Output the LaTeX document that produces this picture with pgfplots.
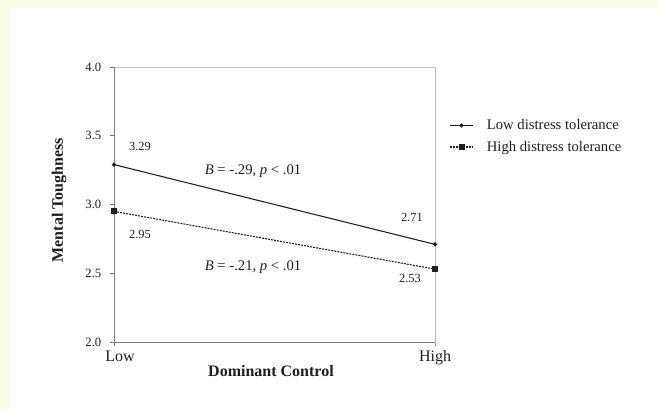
\documentclass[border=0pt]{standalone}
\usepackage{fontspec}
\setmainfont{Liberation Serif}
\usepackage{pgfplots}
\pgfplotsset{compat=1.18}
\definecolor{cream}{RGB}{250,252,232}
\definecolor{axisgray}{RGB}{125,125,125}
\definecolor{boxgray}{RGB}{190,190,190}
\definecolor{ink}{RGB}{30,30,30}
\begin{document}
\begin{tikzpicture}
\fill[cream] (0pt,0pt) rectangle (494.25pt,306.75pt);
\fill[white] (7.5pt,0pt) rectangle (494.25pt,300.75pt);
\path[use as bounding box] (0pt,0pt) rectangle (494.25pt,306.75pt);
\begin{axis}[
  at={(85.5pt,50.25pt)}, anchor=south west,
  scale only axis, width=240.75pt, height=206.25pt,
  xmin=0, xmax=1, ymin=2, ymax=4,
  xtick={0,1}, xticklabels={{\hspace*{9pt}Low}, High},
  ytick={2,2.5,3,3.5,4},
  yticklabel style={/pgf/number format/fixed, /pgf/number format/precision=1, /pgf/number format/fixed zerofill, font=\fontsize{9.5}{11}\selectfont, text=ink, xshift=-3pt},
  /pgf/number format/assume math mode=true,
  xticklabel style={font=\fontsize{12}{14}\selectfont, text=ink},
  tick align=outside, tick pos=left,
  major tick length=3pt,
  tick style={axisgray, line width=0.6pt},
  axis line style={boxgray, line width=0.6pt},
  xlabel={\textbf{Dominant Control}},
  ylabel={\textbf{Mental Toughness}},
  xlabel style={at={(axis description cs:0.489,0)}, anchor=center, yshift=-21.75pt, font=\fontsize{12}{14}\selectfont, text=ink},
  ylabel style={at={(axis description cs:0,0.516)}, anchor=center, yshift=41.25pt, font=\fontsize{12}{14}\selectfont, text=ink},
  legend style={at={(axis description cs:1.045,0.82)}, anchor=north west, draw=none, fill=none, font=\fontsize{11}{13}\selectfont, row sep=3pt, inner sep=0pt, text=ink},
  legend cell align=left,
  clip=false,
]
\draw[axisgray, line width=0.6pt] (rel axis cs:0,1) -- (rel axis cs:0,0) -- (rel axis cs:1,0);
\addplot[ink, line width=0.8pt, mark=*, mark size=1.2pt] coordinates {(0,3.29) (1,2.71)};
\addlegendentry{\hspace*{8pt}Low distress tolerance}
\addplot[ink, line width=0.8pt, dash pattern=on 1.5pt off 0.8pt, mark=square*, mark size=1.9pt, mark options={solid}] coordinates {(0,2.95) (1,2.53)};
\addlegendentry{\hspace*{8pt}High distress tolerance}
\node[font=\fontsize{9.3}{11}\selectfont, text=ink] at (axis cs:0.081,3.425) {3.29};
\node[font=\fontsize{9.3}{11}\selectfont, text=ink] at (axis cs:0.081,2.785) {2.95};
\node[font=\fontsize{9.3}{11}\selectfont, text=ink] at (axis cs:0.928,2.909) {2.71};
\node[font=\fontsize{9.3}{11}\selectfont, text=ink] at (axis cs:0.922,2.465) {2.53};
\node[font=\fontsize{11}{13}\selectfont, text=ink] at (axis cs:0.433,3.244) {\textit{B} = -.29, \textit{p} < .01};
\node[font=\fontsize{11}{13}\selectfont, text=ink] at (axis cs:0.433,2.545) {\textit{B} = -.21, \textit{p} < .01};
\end{axis}
\end{tikzpicture}
\end{document}
